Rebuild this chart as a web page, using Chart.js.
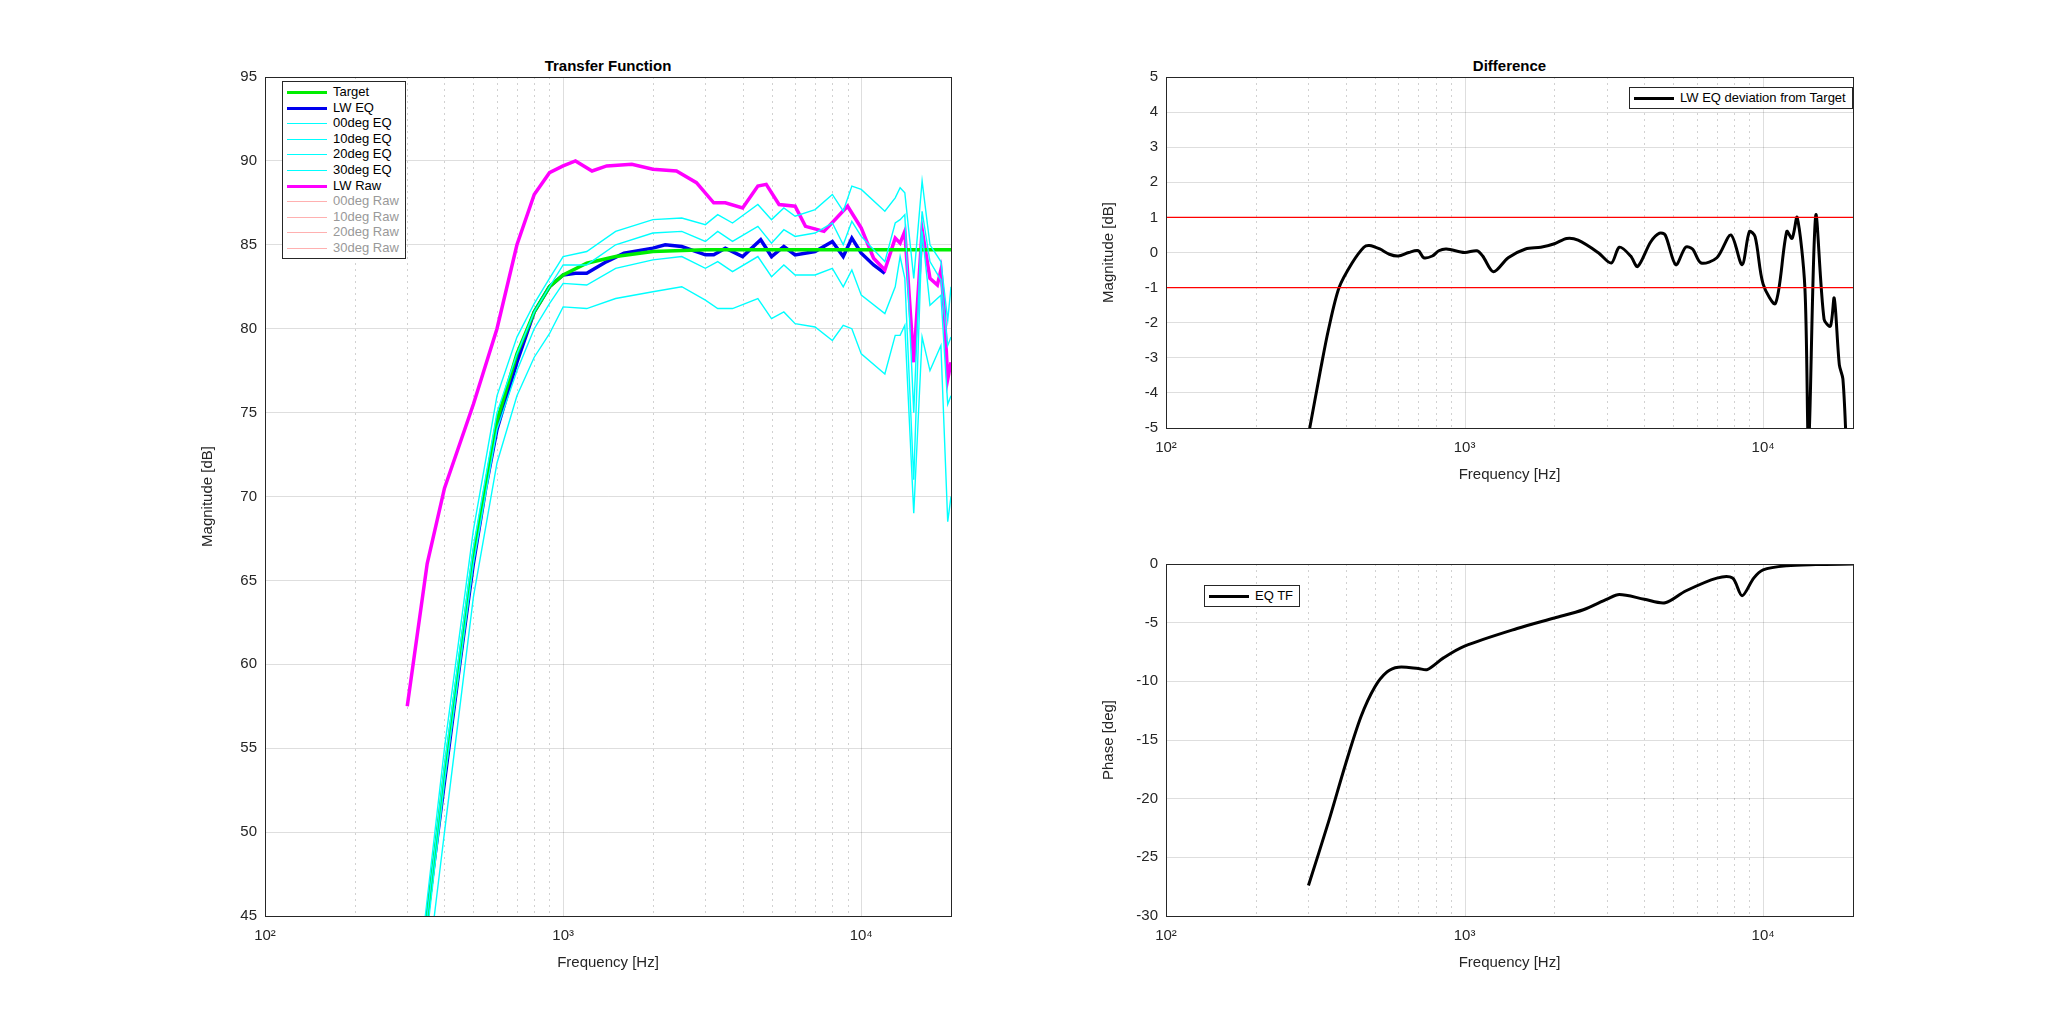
<!DOCTYPE html>
<html><head><meta charset="utf-8">
<script src="https://cdn.jsdelivr.net/npm/chart.js@4"></script>
<style>
body{margin:0;background:#fff;font-family:"Liberation Sans",Arial,sans-serif;}
.box{position:absolute;}
.ttl{position:absolute;font-weight:bold;font-size:15px;color:#000;text-align:center;}
.leg{position:absolute;background:#fff;border:1px solid #262626;font-size:13px;padding:2px 6px 2px 4px;line-height:15.6px;}
.leg span.sw{display:inline-block;width:40px;height:0;vertical-align:middle;margin-right:6px;}
</style></head>
<body>
<div class="ttl" style="left:265px;width:686px;top:57px">Transfer Function</div>
<div class="ttl" style="left:1166px;width:687px;top:57px">Difference</div>
<div class="box" id="b1" style="left:195px;top:60px;width:766px;height:916px"><canvas id="c1"></canvas></div>
<div class="box" id="b2" style="left:1096px;top:60px;width:767px;height:428px"><canvas id="c2"></canvas></div>
<div class="box" id="b3" style="left:1096px;top:547px;width:767px;height:429px"><canvas id="c3"></canvas></div>
<div class="leg" id="leg1" style="left:282px;top:81px"></div>
<div class="leg" style="left:1629px;top:87px"><span class="sw" style="border-top:3px solid #000"></span>LW EQ deviation from Target</div>
<div class="leg" style="left:1204px;top:585px"><span class="sw" style="border-top:3px solid #000"></span>EQ TF</div>
<script>
// Transfer function data
var rawF = [300,350,400,500,600,700,800,900,1000,1100,1250,1400,1700,2000,2400,2800,3200,3500,4000,4500,4800,5300,6000,6500,7500,9000,10000,11000,12000,13000,13500,14000,15000,16000,17000,18000,18500,19000,19500,20000];
var lwRaw = [57.5,66,70.5,75.5,80,85,88,89.3,89.7,90,89.4,89.7,89.8,89.5,89.4,88.7,87.5,87.5,87.2,88.5,88.6,87.4,87.3,86.1,85.8,87.3,86,84.2,83.5,85.4,85.1,85.8,78,85.9,83,82.6,83.5,81,77,78];
var eqF = [350,400,450,500,550,600,700,800,900,1000,1100,1200,1400,1600,2000,2200,2500,3000,3200,3500,4000,4600,5000,5500,6000,7000,8000,8700,9300,10000,11000,12000];
var lwEq = [45,53,60,66,70.5,74,78,81,82.5,83.2,83.3,83.3,84,84.5,84.8,85,84.9,84.4,84.4,84.8,84.3,85.3,84.3,84.9,84.4,84.6,85.2,84.3,85.4,84.5,83.8,83.3];
var tgtF = [340,400,500,600,700,800,900,1000,1200,1500,2000,3000,5000,10000,20000];
var target = [43,53.5,66.5,74.5,78.5,81,82.5,83.2,83.9,84.3,84.6,84.7,84.7,84.7,84.7];
var offF = [340,350,400,500,600,700,800,900,1000,1200,1500,2000,2500,3000,3300,3700,4500,5000,5500,6000,7000,8000,8700,9300,10000,12000,13000,13500,14000,15000,16000,17000,18500,19500,20000];
var deg00 = [44,46,55,68,76,79.5,81.5,83,84.3,84.6,85.8,86.5,86.6,86.2,86.8,86.3,87.4,86.5,87.2,86.7,87.1,88,87,88.5,88.3,87,87.8,88.4,88.1,83,88.8,85,84,80.5,82.5];
var deg10 = [43,45,54,67,75,78.5,81,82.5,83.8,83.8,85,85.7,85.8,85.2,85.8,85.2,86.1,85.1,85.9,85.5,85.7,86.3,85,86.4,85.5,84,86.3,86.5,86.8,75,87,84,82.9,79,79.5];
var deg20 = [42,44,53,66,74,77.5,80,81.5,82.7,82.6,83.6,84.1,84.3,83.6,84,83.4,84.3,83.1,83.8,83.2,83.2,83.6,82.5,83.5,82,80.9,82.5,84.3,83,71,85.8,81.4,82,75.5,76];
var deg30 = [40,41.5,50,64,72,76,78.3,79.7,81.3,81.2,81.8,82.2,82.5,81.7,81.2,81.2,81.8,80.6,81,80.3,80.1,79.3,80.2,80,78.5,77.3,79.6,79.6,80.2,69,79.5,77.5,79,68.5,70];
// Difference data
var difF = [300,330,350,380,420,460,480,520,560,600,650,700,730,780,820,870,1000,1100,1150,1250,1400,1600,1800,2000,2200,2400,2800,3100,3300,3600,3800,4200,4500,4700,5100,5500,5800,6200,7000,7800,8500,9000,9400,10000,11000,12000,12500,13000,13800,14200,15000,16000,16800,17300,18000,18500,19000];
var diff = [-5.2,-3.3,-2.2,-1,-0.3,0.15,0.2,0.1,-0.05,-0.1,0,0.05,-0.15,-0.1,0.05,0.1,0,0.05,-0.1,-0.55,-0.15,0.1,0.15,0.25,0.4,0.35,0,-0.3,0.15,-0.1,-0.4,0.3,0.55,0.5,-0.35,0.15,0.1,-0.3,-0.15,0.5,-0.35,0.6,0.45,-0.9,-1.45,0.6,0.4,1.0,-1,-5.5,1.05,-1.9,-2.1,-1.3,-3.2,-3.6,-5.5];
var diffLimit = [1,-1];
// Phase data
var phF = [300,350,400,450,500,550,600,700,750,850,1000,1500,2000,2500,3000,3300,4000,4700,5500,7000,7900,8500,9300,10000,12000,15000,20000];
var phase = [-27.4,-22,-17,-13,-10.5,-9.2,-8.8,-8.9,-9,-8,-7,-5.5,-4.6,-3.9,-3.0,-2.6,-3.0,-3.3,-2.3,-1.2,-1.2,-2.7,-1.2,-0.5,-0.15,-0.05,0];

var FONT = "'Liberation Sans', Arial, sans-serif";
function pts(f, v) { return f.map(function(x, i) { return {x: x, y: v[i]}; }); }
var sup = {100: '10\u00B2', 1000: '10\u00B3', 10000: '10\u2074'};

var gridPlugin = {
    id: 'mgrid',
    beforeDatasetsDraw: function(chart) {
        var ctx = chart.ctx, a = chart.chartArea, xs = chart.scales.x;
        ctx.save();
        ctx.lineWidth = 1;
        for (var d = 100; d <= 10000; d *= 10) {
            for (var m = 1; m <= 9; m++) {
                var f = d * m;
                if (f > 20000) break;
                var px = Math.round(xs.getPixelForValue(f)) + 0.5;
                ctx.strokeStyle = m == 1 ? 'rgba(0,0,0,0.13)' : 'rgba(0,0,0,0.18)';
                ctx.setLineDash(m == 1 ? [] : [2, 4]);
                ctx.beginPath(); ctx.moveTo(px, a.top); ctx.lineTo(px, a.bottom); ctx.stroke();
            }
        }
        ctx.restore();
    },
    afterDraw: function(chart) {
        var ctx = chart.ctx, a = chart.chartArea;
        ctx.save();
        ctx.strokeStyle = '#262626'; ctx.lineWidth = 1;
        ctx.strokeRect(a.left + 0.5, a.top + 0.5, a.right - a.left, a.bottom - a.top);
        ctx.restore();
    }
};

function makeOpts(ymin, ymax, ystep, ytitle) {
    return {
        animation: false, responsive: true, maintainAspectRatio: false,
        layout: {padding: {top: 10, right: 10}},
        plugins: {legend: {display: false}, tooltip: {enabled: false}},
        elements: {point: {radius: 0}, line: {tension: 0}},
        scales: {
            x: {
                type: 'logarithmic', min: 100, max: 20000,
                afterBuildTicks: function(s) { s.ticks = [{value: 100}, {value: 1000}, {value: 10000}]; },
                afterFit: function(s) { s.height = 60; },
                grid: {display: false},
                border: {color: '#262626'},
                ticks: {color: '#262626', font: {family: FONT, size: 15}, maxRotation: 0,
                    callback: function(v) { return sup[v] || ''; }},
                title: {display: true, text: 'Frequency [Hz]', color: '#262626', font: {family: FONT, size: 15}, padding: {top: 0}}
            },
            y: {
                min: ymin, max: ymax,
                afterFit: function(s) { s.width = 70; },
                grid: {color: 'rgba(0,0,0,0.13)', drawTicks: false},
                border: {color: '#262626'},
                ticks: {stepSize: ystep, color: '#262626', font: {family: FONT, size: 15}, padding: 8},
                title: {display: true, text: ytitle, color: '#262626', font: {family: FONT, size: 15}, padding: {bottom: 4}}
            }
        }
    };
}

function line(label, f, v, color, w) {
    return {label: label, data: pts(f, v), borderColor: color, borderWidth: w, fill: false};
}

new Chart(document.getElementById('c1'), {
    type: 'line',
    data: {datasets: [
        line('00deg EQ', offF, deg00, '#00ffff', 1.4),
        line('10deg EQ', offF, deg10, '#00ffff', 1.4),
        line('20deg EQ', offF, deg20, '#00ffff', 1.4),
        line('30deg EQ', offF, deg30, '#00ffff', 1.4),
        line('Target', tgtF, target, '#00ee00', 3.5),
        line('LW Raw', rawF, lwRaw, '#ff00ff', 3.5),
        line('LW EQ', eqF, lwEq, '#0000ee', 3.5)
    ]},
    options: makeOpts(45, 95, 5, 'Magnitude [dB]'),
    plugins: [gridPlugin]
});

new Chart(document.getElementById('c2'), {
    type: 'line',
    data: {datasets: [
        line('+1', [100, 20000], [diffLimit[0], diffLimit[0]], '#ff0000', 1.4),
        line('-1', [100, 20000], [diffLimit[1], diffLimit[1]], '#ff0000', 1.4),
        Object.assign(line('LW EQ deviation from Target', difF, diff, '#000', 3), {tension: 0.3})
    ]},
    options: makeOpts(-5, 5, 1, 'Magnitude [dB]'),
    plugins: [gridPlugin]
});

new Chart(document.getElementById('c3'), {
    type: 'line',
    data: {datasets: [
        Object.assign(line('EQ TF', phF, phase, '#000', 3), {tension: 0.3})
    ]},
    options: makeOpts(-30, 0, 5, 'Phase [deg]'),
    plugins: [gridPlugin]
});

// left legend
var legItems = [['Target', '#00ee00', 3.5, '#000'], ['LW EQ', '#0000ee', 3.5, '#000'],
    ['00deg EQ', '#00ffff', 1.4, '#000'], ['10deg EQ', '#00ffff', 1.4, '#000'],
    ['20deg EQ', '#00ffff', 1.4, '#000'], ['30deg EQ', '#00ffff', 1.4, '#000'],
    ['LW Raw', '#ff00ff', 3.5, '#000'], ['00deg Raw', '#ffb0b0', 1.4, '#999'],
    ['10deg Raw', '#ffb0b0', 1.4, '#999'], ['20deg Raw', '#ffb0b0', 1.4, '#999'],
    ['30deg Raw', '#ffb0b0', 1.4, '#999']];
var html = '';
legItems.forEach(function(it) {
    html += '<div style="color:' + it[3] + '"><span class="sw" style="border-top:' + it[2] + 'px solid ' + it[1] + '"></span>' + it[0] + '</div>';
});
document.getElementById('leg1').innerHTML = html;
</script>
</body></html>
